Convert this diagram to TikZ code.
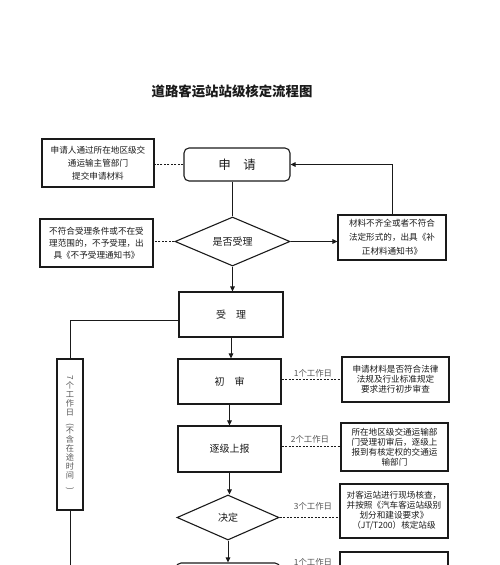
\documentclass[tikz,border=0pt]{standalone}
\usepackage{fontspec}
\setmainfont{Noto Sans CJK SC}
\usetikzlibrary{shapes.geometric,arrows.meta}
\definecolor{ink}{HTML}{1A1A1A}
\definecolor{lbl}{HTML}{555555}
\begin{document}
\begin{tikzpicture}[x=1pt,y=-1pt,
  box/.style={draw=ink,line width=1.1pt,align=center,inner sep=2pt,font=\fontsize{8.6}{10}\selectfont,text=ink},
  mainbox/.style={draw=ink,line width=1.1pt,align=center,text=ink,font=\fontsize{10}{12}\selectfont},
  dia/.style={draw=ink,line width=1.1pt,diamond,aspect=2.3,inner sep=1pt,align=center,text=ink,font=\fontsize{10}{12}\selectfont},
  conn/.style={draw=ink,line width=1pt},
  arr/.style={draw=ink,line width=1pt,-{Triangle[length=5pt,width=4.5pt]}},
  dsh/.style={draw=ink,line width=1pt,dash pattern=on 2pt off 1.5pt},
  lab/.style={text=lbl,font=\fontsize{8.4}{10}\selectfont,inner sep=0pt}
]
\useasboundingbox (0,0) rectangle (500,565);
\clip (0,0) rectangle (500,565);

\node[font=\fontsize{13.4}{16}\selectfont\bfseries,text=ink] (title) at (232,91) {道路客运站站级核定流程图};

% top section
\node[mainbox,rounded corners=5pt,minimum width=106pt,minimum height=33pt,font=\fontsize{12.5}{14}\selectfont] (shen) at (237,164.5) {申\quad 请};
\node[box,minimum width=112pt,minimum height=48pt,font=\fontsize{8.6}{13}\selectfont] (lb1) at (98,163) {申请人通过所在地区级交\\通运输主管部门\\提交申请材料};
\node[dia,minimum width=115pt,minimum height=49pt] (sf) at (232.5,241.5) {是否受理};
\node[box,minimum width=113pt,minimum height=48pt,font=\fontsize{8.6}{12}\selectfont] (lb2) at (96.5,243) {不符合受理条件或不在受\\理范围的，不予受理，出\\具《不予受理通知书》};
\node[box,minimum width=108pt,minimum height=45pt,font=\fontsize{8.6}{14}\selectfont] (rb) at (392,237.5) {材料不齐全或者不符合\\法定形式的，出具《补\\正材料通知书》};

% main column
\node[mainbox,minimum width=104pt,minimum height=45pt] (sl) at (231,314.5) {受\quad 理};
\node[mainbox,minimum width=103pt,minimum height=45pt] (cs) at (229.5,381.5) {初\quad 审};
\node[mainbox,minimum width=103pt,minimum height=46pt] (zj) at (229.5,449) {逐级上报};
\node[dia,minimum width=102pt,minimum height=45pt] (jd) at (228,517.5) {决定};
\node[mainbox,rounded corners=5pt,minimum width=104pt,minimum height=36pt] (bt) at (228,581) {};

% right column
\node[box,minimum width=107pt,minimum height=45pt] (ba) at (395.5,379.5) {申请材料是否符合法律\\法规及行业标准规定\\要求进行初步审查};
\node[box,minimum width=107pt,minimum height=48pt] (bb) at (394.5,447) {所在地区级交通运输部\\门受理初审后，逐级上\\报到有核定权的交通运\\输部门};
\node[box,minimum width=108pt,minimum height=54pt] (bc) at (394,511) {对客运站进行现场核查，\\并按照《汽车客运站级别\\划分和建设要求》\\（JT/T200）核定站级};
\node[box,minimum width=108pt,minimum height=56pt] (bd) at (394,580) {};

\node[lab] (l1) at (313,373) {1个工作日};
\node[lab] (l2) at (310,439) {2个工作日};
\node[lab] (l3) at (313,506) {3个工作日};
\node[lab] (l4) at (313,562) {1个工作日};

% left vertical box
\node[draw=ink,line width=1.1pt,minimum width=26pt,minimum height=151pt,inner sep=0pt] (vb) at (70,434.5) {};
\node[text=lbl,align=center,inner sep=0pt,font=\fontsize{8.2}{8.9}\selectfont] (vt) at (70,433) {\rotatebox{-90}{7}\\个\\工\\作\\日\\\rotatebox{-90}{(}\\不\\含\\在\\途\\时\\间\\\rotatebox{-90}{)}};
\coordinate (vend) at (70,590);

% connectors
\draw[conn] (sf.north |- shen.south) -- (sf.north);
\draw[arr] (rb.north) |- (shen.east);
\draw[arr] (sf.east) -- (sf.east -| rb.west);
\draw[dsh] (shen.west) -- (shen.west -| lb1.east);
\draw[dsh] (sf.west) -- (sf.west -| lb2.east);
\draw[arr] (sf.south) -- (sf.south |- sl.north);
\draw[arr] (sl.south) -- (sl.south |- cs.north);
\draw[arr] (cs.south) -- (cs.south |- zj.north);
\draw[arr] (zj.south) -- (zj.south |- jd.north);
\draw[arr] (jd.south) -- (jd.south |- bt.north);
\draw[dsh] ([yshift=2.5pt]cs.east) -- ([yshift=2.5pt]cs.east -| ba.west);
\draw[dsh] ([yshift=3pt]zj.east) -- ([yshift=3pt]zj.east -| bb.west);
\draw[dsh] (jd.east) -- (jd.east -| bc.west);
\draw[conn] ([yshift=-5.5pt]sl.west) -| (vb.north);
\draw[conn] (vb.south) -- (vend);
\end{tikzpicture}
\end{document}
